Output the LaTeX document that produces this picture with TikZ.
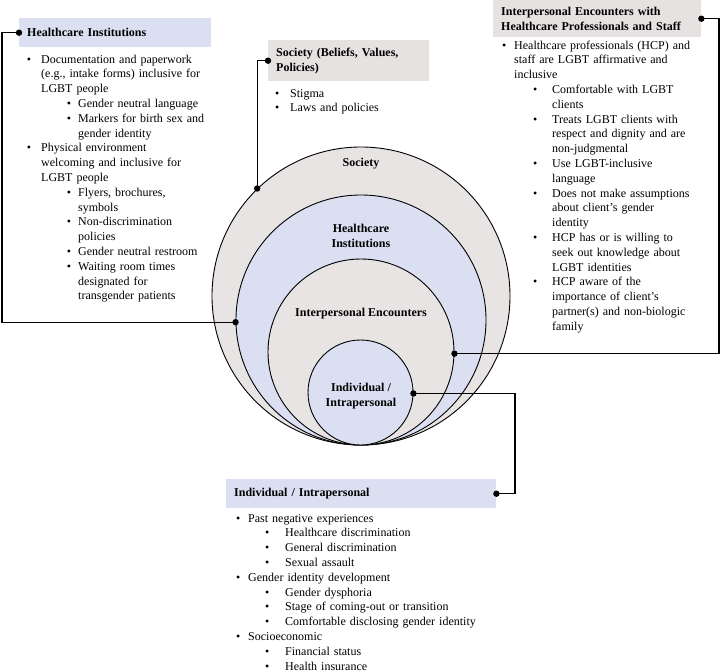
\documentclass[tikz,border=0pt]{standalone}
\usepackage{fontspec}
\setmainfont{Liberation Serif}
\usepackage{enumitem}
\usetikzlibrary{positioning, calc}
\definecolor{ringgray}{RGB}{232, 228, 228}
\definecolor{ringblue}{RGB}{218, 224, 242}
\definecolor{headgray}{RGB}{230, 226, 226}
\definecolor{headblue}{RGB}{218, 224, 242}
\setlist[itemize]{label=\textbullet, nosep}
\newcommand{\bodyfont}{\fontsize{12pt}{14.8pt}\selectfont}

\begin{document}
\begin{tikzpicture}[x=1pt, y=-1pt,
  ring/.style={circle, draw, line width=0.9pt, inner sep=0pt},
  ringlabel/.style={font=\bodyfont\bfseries, align=center},
  head/.style={anchor=north west, inner xsep=8pt, inner ysep=0pt, align=left, font=\bodyfont\bfseries},
  itemlist/.style={anchor=north west, inner sep=0pt, align=left, font=\bodyfont},
  link/.style={line width=1.1pt}]
  \useasboundingbox (0,0) rectangle (721,672);

  % Nested circles
  \node[ring, fill=ringgray, minimum size=298pt] (society) at (361,296) {};
  \node[ring, fill=ringblue, minimum size=250pt] (inst) at (361,320) {};
  \node[ring, fill=ringgray, minimum size=186pt] (encounter) at (361,352) {};
  \node[ring, fill=ringblue, minimum size=105pt] (indiv) at (360.5,392.5) {};

  \node[ringlabel] (societylbl) at (361,164) {Society};
  \node[ringlabel] (instlbl) at (361,236) {Healthcare\\Institutions};
  \node[ringlabel] (encounterlbl) at (361,314) {Interpersonal Encounters};
  \node[ringlabel] (indivlbl) at (361,396) {Individual /\\Intrapersonal};

  % Healthcare institutions
  \node[head, fill=headblue, minimum width=192pt, minimum height=29pt, text width=176pt] (insthead) at (19,18) {Healthcare Institutions};
  \node[itemlist, text width=200pt] (instlist) at (19,48) {%
    \begin{itemize}[leftmargin=22pt, labelsep=10pt]
      \item Documentation and paperwork\\(e.g., intake forms) inclusive for\\LGBT people
      \begin{itemize}[leftmargin=37pt, labelsep=7pt]
        \item Gender neutral language
        \item Markers for birth sex and\\gender identity
      \end{itemize}
      \item Physical environment\\welcoming and inclusive for\\LGBT people
      \begin{itemize}[leftmargin=37pt, labelsep=7pt]
        \item Flyers, brochures,\\symbols
        \item Non-discrimination\\policies
        \item Gender neutral restroom
        \item Waiting room times\\designated for\\transgender patients
      \end{itemize}
    \end{itemize}};

  % Society
  \node[head, fill=headgray, minimum width=161pt, minimum height=41pt, text width=145pt] (sochead) at (268,40) {Society (Beliefs, Values,\\Policies)};
  \node[itemlist, text width=160pt] (soclist) at (268,82) {%
    \begin{itemize}[leftmargin=22pt, labelsep=11pt]
      \item Stigma
      \item Laws and policies
    \end{itemize}};

  % Interpersonal encounters
  \node[head, fill=headgray, minimum width=208pt, minimum height=37pt, text width=192pt] (iehead) at (493,0) {Interpersonal Encounters with\\Healthcare Professionals and Staff};
  \node[itemlist, text width=226pt] (ielist) at (493,34) {%
    \begin{itemize}[leftmargin=21pt, labelsep=8pt]
      \item Healthcare professionals (HCP) and\\staff are LGBT affirmative and\\inclusive
      \begin{itemize}[leftmargin=38pt, labelsep=15pt]
        \item Comfortable with LGBT\\clients
        \item Treats LGBT clients with\\respect and dignity and are\\non-judgmental
        \item Use LGBT-inclusive\\language
        \item Does not make assumptions\\about client's gender\\identity
        \item HCP has or is willing to\\seek out knowledge about\\LGBT identities
        \item HCP aware of the\\importance of client's\\partner(s) and non-biologic\\family
      \end{itemize}
    \end{itemize}};

  % Individual
  \node[head, fill=headblue, minimum width=270pt, minimum height=29pt, text width=254pt] (indhead) at (226,479) {Individual / Intrapersonal};
  \node[itemlist, text width=300pt] (indlist) at (226,507) {%
    \begin{itemize}[leftmargin=22pt, labelsep=8pt]
      \item Past negative experiences
      \begin{itemize}[leftmargin=37pt, labelsep=16pt]
        \item Healthcare discrimination
        \item General discrimination
        \item Sexual assault
      \end{itemize}
      \item Gender identity development
      \begin{itemize}[leftmargin=37pt, labelsep=16pt]
        \item Gender dysphoria
        \item Stage of coming-out or transition
        \item Comfortable disclosing gender identity
      \end{itemize}
      \item Socioeconomic
      \begin{itemize}[leftmargin=37pt, labelsep=16pt]
        \item Financial status
        \item Health insurance
      \end{itemize}
    \end{itemize}};

  % Connectors
  \coordinate (leftrail) at (2,0);
  \coordinate (rightrail) at (719,0);
  \coordinate (indrail) at (515,0);
  \draw[link] (society.134) |- (sochead.west);
  \draw[link] (inst.181) -- (inst.181 -| leftrail) |- (insthead.west);
  \draw[link] (encounter.-1) -- (encounter.-1 -| rightrail) |- (iehead.east);
  \draw[link] (indiv.-1) -- (indiv.-1 -| indrail) |- (indhead.east);

  \foreach \p in {society.134, sochead.west, inst.181, insthead.west, encounter.-1, iehead.east, indiv.-1, indhead.east}
    \fill (\p) circle (3.2pt);
\end{tikzpicture}
\end{document}
